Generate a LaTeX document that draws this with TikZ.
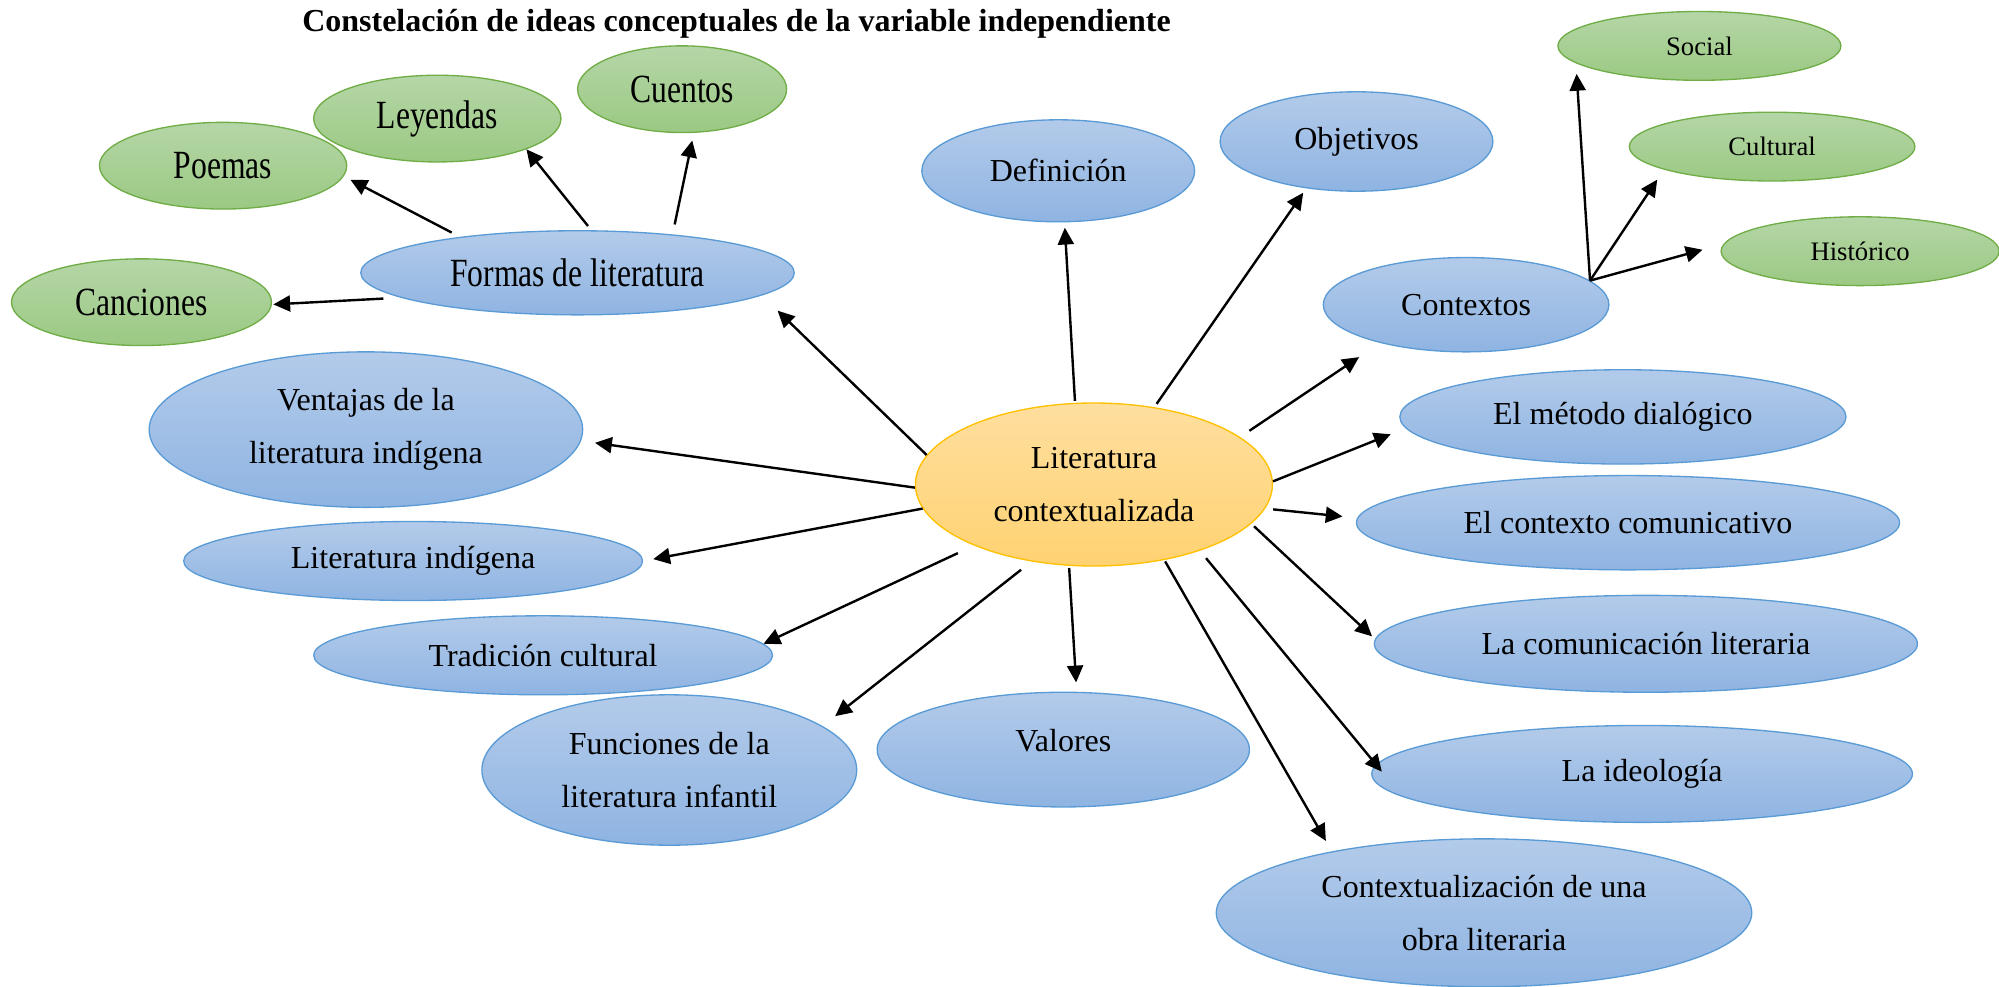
\documentclass[tikz,border=0pt]{standalone}
\usepackage{fontspec}
\setmainfont{Liberation Serif}
\newfontfamily\tallfont{Liberation Serif}[FakeStretch=0.79]
\usetikzlibrary{shapes.geometric,arrows.meta}
\definecolor{bluetop}{HTML}{B3CBEA}
\definecolor{bluebot}{HTML}{8FB4E2}
\definecolor{blueline}{HTML}{5B9BD5}
\definecolor{greentop}{HTML}{B5D6A7}
\definecolor{greenbot}{HTML}{9BC983}
\definecolor{greenline}{HTML}{70AD47}
\definecolor{orangetop}{HTML}{FFDF9F}
\definecolor{orangebot}{HTML}{FFD272}
\definecolor{orangeline}{HTML}{FFC000}
\begin{document}
\begin{tikzpicture}[x=0.375pt, y=-0.375pt, line join=round, >={Triangle[length=6.3pt,width=6pt]},
	idea/.style={ellipse, inner sep=0pt, align=center, draw=blueline, line width=0.5pt,
		top color=bluetop, bottom color=bluebot, font=\fontsize{12}{20}\selectfont},
	tall/.style={font=\tallfont\fontsize{15}{20}\selectfont},
	forma/.style={idea, tall, draw=greenline, top color=greentop, bottom color=greenbot},
	ambito/.style={idea, draw=greenline, top color=greentop, bottom color=greenbot, font=\fontsize{10}{12}\selectfont},
	esize/.style 2 args={minimum width=#1*0.375pt, minimum height=#2*0.375pt},
	arr/.style={->, line width=0.9pt}]
	\useasboundingbox (0,0) rectangle (1999,987);
	\node[font=\bfseries\fontsize{12}{14}\selectfont] (titulo) at (736.5,24) {Constelación de ideas conceptuales de la variable independiente};
	% centro
	\node[idea, esize={357}{163}, draw=orangeline, top color=orangetop, bottom color=orangebot] (lc) at (1093.9,484.5) {Literatura\\contextualizada};
	% formas y sus tipos
	\node[idea, tall, esize={433.5}{84.1}] (formas) at (577.5,272.8) {Formas de literatura};
	\node[forma, esize={209}{86.7}] (cuentos) at (682.1,89.2) {Cuentos};
	\node[forma, esize={247.3}{86.7}] (leyendas) at (437.3,118.6) {Leyendas};
	\node[forma, esize={247.3}{86.7}] (poemas) at (223.1,165.7) {Poemas};
	\node[forma, esize={260}{86.7}] (canciones) at (141.5,302.2) {Canciones};
	% contextos
	\node[idea, esize={285.6}{94.3}] (contextos) at (1466.1,304.7) {Contextos};
	\node[ambito, esize={283}{68.8}] (social) at (1699.4,45.9) {Social};
	\node[ambito, esize={285.6}{68.8}] (cultural) at (1772.1,146.6) {Cultural};
	\node[ambito, esize={278}{68.8}] (historico) at (1860.1,251.2) {Histórico};
	% resto de ideas
	\node[idea, esize={272.8}{102}] (definicion) at (1058.2,170.8) {Definición};
	\node[idea, esize={272.8}{99.4}] (objetivos) at (1356.5,141.5) {Objetivos};
	\node[idea, esize={433.5}{155.5}] (ventajas) at (365.9,429.6) {Ventajas de la\\literatura indígena};
	\node[idea, esize={446.2}{94.3}] (metodo) at (1622.9,416.9) {El método dialógico};
	\node[idea, esize={543.1}{94.3}] (comunicativo) at (1628,522.7) {El contexto comunicativo};
	\node[idea, esize={458.9}{79}] (litind) at (413.1,561) {Literatura indígena};
	\node[idea, esize={458.9}{79}] (tradicion) at (543.1,655.3) {Tradición cultural};
	\node[idea, esize={543.1}{96.9}] (comunicacion) at (1645.9,643.8) {La comunicación literaria};
	\node[idea, esize={374.8}{150.4}] (funciones) at (669.3,770) {Funciones de la\\literatura infantil};
	\node[idea, esize={372.3}{114.7}, text depth=6.8pt] (valores) at (1063.3,749.6) {Valores};
	\node[idea, esize={540.6}{96.9}] (ideologia) at (1642.1,773.9) {La ideología};
	\node[idea, esize={535.5}{147.9}] (obra) at (1484,912.8) {Contextualización de una\\obra literaria};
	% flechas
	\foreach \t/\a/\b/\s/\e in {formas/170/-7.6/0pt/8.2pt, definicion/103/-83.5/0.7pt/2pt,
		objetivos/52.7/-137.8/1.5pt/2pt, contextos/18.2/-156.6/4.2pt/9.5pt,
		metodo/1.6/-177.2/0pt/6pt, comunicativo/-8.1/179.2/3pt/5.5pt,
		comunicacion/-14.4/179.5/1.4pt/1.5pt, ideologia/-32.5/178.6/3.6pt/-3.4pt,
		obra/-47.5/158.4/0.6pt/4.5pt, valores/-107.1/77/0.8pt/3.5pt,
		funciones/-129.5/16.2/5pt/6pt, tradicion/-153.9/3.4/6.7pt/0pt,
		litind/-172.3/-0.6/0pt/3.8pt, ventajas/-179.2/-3.2/0pt/5.3pt}{
		\draw[arr, shorten <=\s, shorten >=\e] (lc.\a) -- (\t.\b);}
	\foreach \t/\a/\b/\s/\e in {canciones/-172.6/-1.7/6.5pt/0.5pt, poemas/163/-5.8/3.5pt/2.8pt,
		leyendas/72/-19.7/2pt/0pt, cuentos/22.6/-75/3.8pt/2.9pt}{
		\draw[arr, shorten <=\s, shorten >=\e] (formas.\a) -- (\t.\b);}
	\foreach \t/\b/\e in {social/-172.6/4pt, cultural/-168.6/4.5pt, historico/177.7/8.1pt}{
		\draw[arr, shorten >=\e] (contextos.11.7) -- (\t.\b);}
\end{tikzpicture}
\end{document}
